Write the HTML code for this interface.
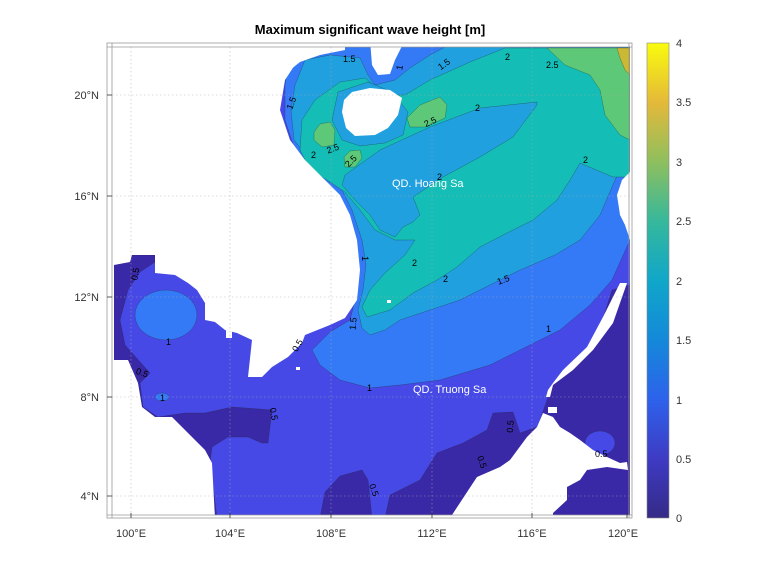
<!DOCTYPE html>
<html><head><meta charset="utf-8"><style>
body{margin:0;background:#fff;width:778px;height:583px;overflow:hidden;font-family:"Liberation Sans",sans-serif}
</style></head><body>
<svg width="778" height="583" xmlns="http://www.w3.org/2000/svg" font-family="Liberation Sans, sans-serif">
<defs>
<clipPath id="c"><rect x="112" y="47" width="518" height="468"/></clipPath>
<linearGradient id="cb" x1="0" y1="1" x2="0" y2="0">
<stop offset="0" stop-color="#352a87"/><stop offset="0.125" stop-color="#3e3bc4"/>
<stop offset="0.25" stop-color="#2d62eb"/><stop offset="0.375" stop-color="#1489da"/>
<stop offset="0.5" stop-color="#10a7c9"/><stop offset="0.625" stop-color="#36b89b"/>
<stop offset="0.75" stop-color="#8fbf5e"/><stop offset="0.875" stop-color="#e4b939"/>
<stop offset="1" stop-color="#f9fb0e"/></linearGradient>
</defs>
<text x="370" y="34" text-anchor="middle" font-size="13" font-weight="bold" fill="#000">Maximum significant wave height [m]</text>
<g clip-path="url(#c)" stroke="#222" stroke-width="0.4" stroke-opacity="0.6">
<rect x="100" y="40" width="540" height="480" fill="#4649e6" stroke="none"/>
<!-- dark 0-0.5 -->
<polygon fill="#3a29a6" points="100,258 132,255 155,255 155,262 140,272 128,290 120,320 125,345 150,373 140,383 143,407 158,417 185,413 205,413 232,407 272,410 268,443 262,443 248,437 228,437 212,447 210,463 217,518 100,518"/>
<polygon fill="#3a29a6" points="320,518 325,492 340,476 362,470 368,480 372,518"/>
<polygon fill="#3a29a6" points="385,518 390,495 420,480 437,453 463,443 487,430 493,413 513,412 520,433 537,427 548,407 560,430 580,470 560,518"/>
<polygon fill="#3a29a6" points="612,290 630,285 630,518 540,518 540,420 553,383 573,370 593,350"/>
<ellipse cx="600" cy="443" rx="15" ry="12" fill="#4649e6"/>
<!-- 1-1.5 -->
<polygon fill="#3479f6" points="290,47 630,47 630,240 612,280 590,305 560,330 530,345 490,365 440,380 400,385 370,388 340,380 320,365 312,350 330,332 350,320 355,300 358,270 352,235 340,200 320,178 295,150 285,120 285,85"/>
<ellipse cx="166" cy="315" rx="31" ry="25" fill="#3479f6"/>
<ellipse cx="162" cy="397" rx="7" ry="4" fill="#3479f6"/>
<!-- 1.5-2 -->
<polygon fill="#20a0df" points="305,60 330,55 360,58 368,75 375,85 395,80 410,68 430,55 445,47 630,47 630,150 615,180 600,215 580,240 555,255 520,270 490,285 460,300 430,310 400,320 385,330 370,335 362,328 358,310 363,290 366,265 362,240 352,210 342,190 326,175 306,155 294,140 291,110 295,85"/>
<!-- 2-2.5 -->
<polygon fill="#14bdb5" points="505,48 630,48 630,177 613,177 580,163 570,180 557,200 533,220 507,233 480,247 457,267 437,280 413,293 390,310 367,317 362,307 370,290 385,273 405,255 415,240 395,240 375,230 360,210 345,192 330,182 310,170 300,150 302,120 315,100 340,82 365,78 385,95 405,95 430,80 470,62"/>
<polygon fill="#20a0df" points="537,102 480,108 430,127 380,150 345,175 342,185 355,200 370,215 380,230 395,237 403,227 413,222 420,215 413,197 443,177 480,157 513,137 537,105"/>
<polygon fill="#20a0df" points="338,92 368,82 392,92 408,112 403,135 385,143 360,146 342,140 332,120"/>
<!-- 2.5-3 -->
<polygon fill="#5cc878" points="547,48 630,48 630,140 620,135 605,115 600,90 590,75 565,65"/>
<polygon fill="#5cc878" points="407,118 420,105 440,97 447,105 445,118 425,127 410,127"/>
<polygon fill="#5cc878" points="314,132 320,124 330,122 335,130 334,145 322,147 314,140"/>
<polygon fill="#5cc878" points="344,157 350,151 360,150 362,158 355,167 345,167"/>
<polygon fill="#cbb834" points="617,48 630,48 630,75 625,70 620,58"/>
</g>
<g clip-path="url(#c)" fill="#fff">
<polygon points="100,40 300,40 298,60 285,80 280,110 290,140 305,160 325,180 340,195 350,215 357,240 360,270 357,300 345,318 330,325 305,335 302,343 288,357 272,367 262,377 248,377 252,340 237,333 225,330 215,322 205,320 205,303 197,290 188,283 175,275 155,273 155,255 132,255 130,262 114,265 112,250 100,250"/>
<polygon points="100,250 114,250 114,360 100,360"/>
<polygon points="100,360 128,360 138,383 142,407 155,417 172,417 185,430 205,450 212,463 215,518 100,518"/>
<polygon points="290,40 345,40 345,50 320,55 300,62 290,70"/>
<polygon points="370,40 405,40 395,60 390,74 378,75 372,65"/>
<polygon points="344,100 352,92 370,88 390,90 402,98 398,115 388,128 375,135 355,136 346,128 342,112"/>
<polygon points="630,172 622,180 617,195 620,215 625,225 630,240"/>
<polygon points="620,283 627,283 613,323 593,350 573,370 553,385 550,397 546,397 548,390 553,383 563,370 587,347 603,317"/>
<polygon points="548,407 557,407 557,413 548,413"/>
<polygon points="543,413 553,417 560,427 570,433 580,440 593,450 607,457 620,463 627,462 628,470 607,467 587,470 580,480 567,487 567,500 553,513 553,518 450,518 473,483 477,477 500,467 510,460 527,437 537,427"/>
<rect x="215" y="313" width="5" height="8"/><rect x="226" y="330" width="6" height="8"/>
<rect x="387" y="300" width="4" height="3"/><rect x="296" y="367" width="4" height="3"/>
</g>
<!-- grid -->
<g stroke="#aaa" stroke-width="0.6" stroke-dasharray="1.5,2.5" opacity="0.8">
<line x1="131" y1="47" x2="131" y2="515"/><line x1="230" y1="47" x2="230" y2="515"/><line x1="331" y1="47" x2="331" y2="515"/><line x1="432" y1="47" x2="432" y2="515"/><line x1="532" y1="47" x2="532" y2="515"/>
<line x1="112" y1="95" x2="630" y2="95"/><line x1="112" y1="196" x2="630" y2="196"/><line x1="112" y1="297" x2="630" y2="297"/><line x1="112" y1="397" x2="630" y2="397"/><line x1="112" y1="496" x2="630" y2="496"/>
</g>
<!-- frame -->
<g fill="none" stroke="#999" stroke-width="0.8">
<rect x="107" y="43" width="525" height="475"/>
<line x1="112" y1="43" x2="112" y2="518"/><line x1="107" y1="515" x2="632" y2="515"/>
<line x1="107" y1="47" x2="632" y2="47"/><line x1="629" y1="43" x2="629" y2="518"/>
</g>
<g stroke="#333" stroke-width="0.8">
<line x1="131" y1="518" x2="131" y2="513"/><line x1="230" y1="518" x2="230" y2="513"/><line x1="331" y1="518" x2="331" y2="513"/><line x1="432" y1="518" x2="432" y2="513"/><line x1="532" y1="518" x2="532" y2="513"/><line x1="627" y1="518" x2="627" y2="513"/>
<line x1="107" y1="95" x2="112" y2="95"/><line x1="107" y1="196" x2="112" y2="196"/><line x1="107" y1="297" x2="112" y2="297"/><line x1="107" y1="397" x2="112" y2="397"/><line x1="107" y1="496" x2="112" y2="496"/>
</g>
<g font-size="11" fill="#333" text-anchor="middle">
<text x="131" y="537">100°E</text><text x="230" y="537">104°E</text><text x="331" y="537">108°E</text><text x="432" y="537">112°E</text><text x="532" y="537">116°E</text><text x="623" y="537">120°E</text>
</g>
<g font-size="11" fill="#333" text-anchor="end">
<text x="99" y="99">20°N</text><text x="99" y="200">16°N</text><text x="99" y="301">12°N</text><text x="99" y="401">8°N</text><text x="99" y="500">4°N</text>
</g>
<!-- contour labels -->
<g font-size="9" fill="#000">
<text x="343" y="62">1.5</text><text x="438" y="68" transform="rotate(-35 443 65)">1.5</text><text x="505" y="60">2</text><text x="546" y="68">2.5</text>
<text x="395" y="68" transform="rotate(-80 400 65)">1</text><text x="475" y="111">2</text><text x="424" y="125" transform="rotate(-25 430 122)">2.5</text>
<text x="327" y="152" transform="rotate(-20 332 150)">2.5</text><text x="345" y="165" transform="rotate(-45 350 162)">2.5</text><text x="311" y="158">2</text>
<text x="583" y="163">2</text><text x="437" y="180">2</text><text x="412" y="266">2</text><text x="443" y="282">2</text><text x="497" y="283" transform="rotate(-20 503 280)">1.5</text>
<text x="546" y="332">1</text><text x="367" y="391">1</text><text x="166" y="345">1</text><text x="160" y="401">1</text>
<text x="136" y="375" transform="rotate(20 140 372)">0.5</text><text x="291" y="350" transform="rotate(-60 296 346)">0.5</text>
<text x="270" y="412" transform="rotate(80 272 410)">0.5</text><text x="510" y="430" transform="rotate(-85 513 430)">0.5</text>
<text x="475" y="460" transform="rotate(70 478 460)">0.5</text><text x="367" y="488" transform="rotate(70 370 488)">0.5</text><text x="595" y="457">0.5</text>
<text x="349" y="327" transform="rotate(-85 354 325)">1.5</text><text x="360" y="258" transform="rotate(90 362 258)">1</text>
<text x="285" y="108" transform="rotate(-70 290 104)">1.5</text><text x="130" y="280" transform="rotate(-80 134 276)">0.5</text>
</g>
<g font-size="11" fill="#fff"><text x="392" y="187">QD. Hoang Sa</text><text x="413" y="393">QD. Truong Sa</text></g>
<!-- colorbar -->
<rect x="647" y="43" width="22" height="475" fill="url(#cb)" stroke="#888" stroke-width="0.6"/>
<g font-size="11" fill="#333">
<text x="676" y="47">4</text><text x="676" y="106">3.5</text><text x="676" y="166">3</text><text x="676" y="225">2.5</text><text x="676" y="285">2</text><text x="676" y="344">1.5</text><text x="676" y="404">1</text><text x="676" y="463">0.5</text><text x="676" y="522">0</text>
</g>
</svg>
</body></html>
